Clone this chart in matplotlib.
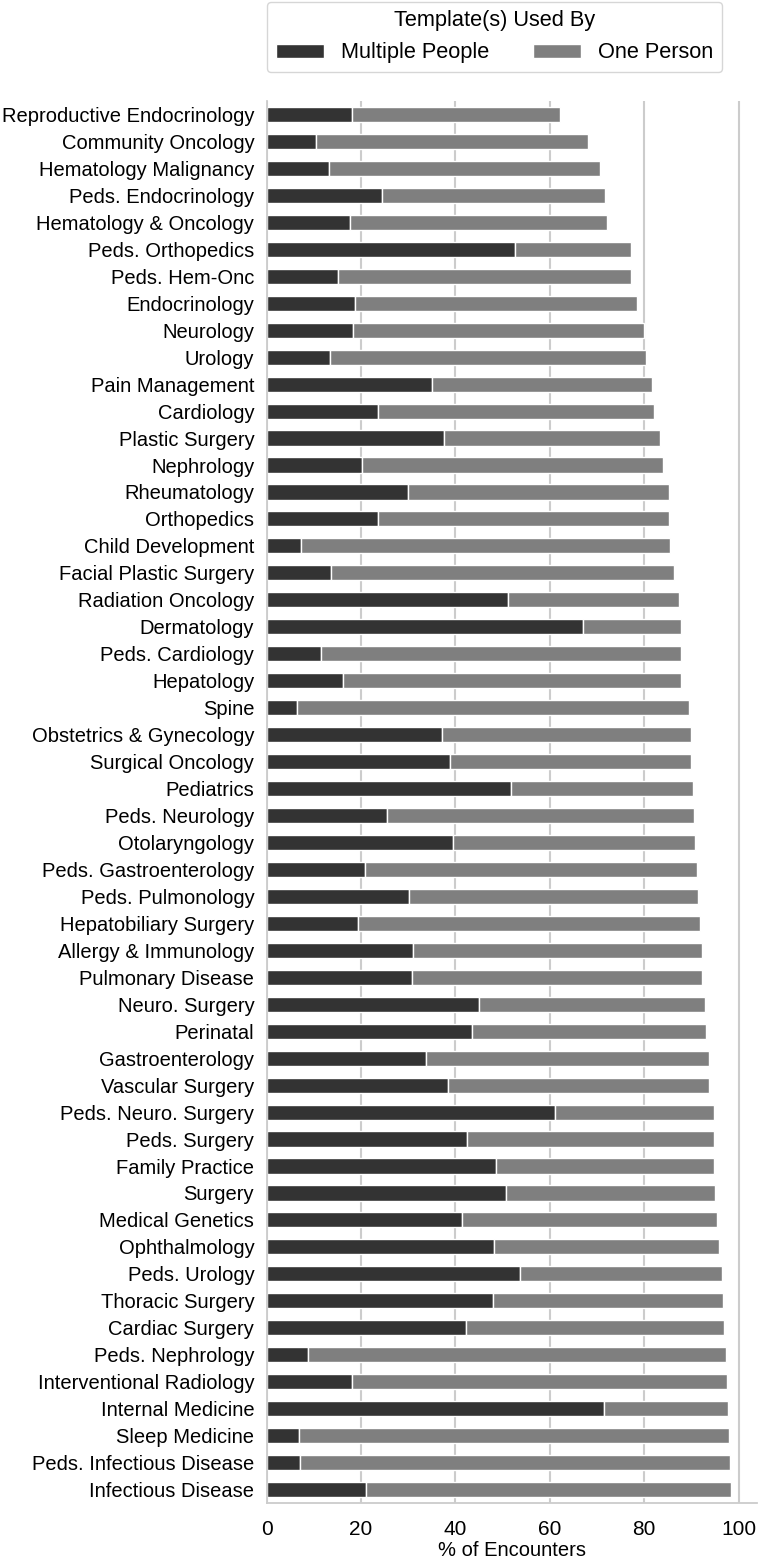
import matplotlib
matplotlib.use("Agg")
import matplotlib.pyplot as plt

# Specialties, top to bottom
specialties = [
    'Reproductive Endocrinology', 'Community Oncology', 'Hematology Malignancy',
    'Peds. Endocrinology', 'Hematology & Oncology', 'Peds. Orthopedics',
    'Peds. Hem-Onc', 'Endocrinology', 'Neurology', 'Urology', 'Pain Management',
    'Cardiology', 'Plastic Surgery', 'Nephrology', 'Rheumatology', 'Orthopedics',
    'Child Development', 'Facial Plastic Surgery', 'Radiation Oncology',
    'Dermatology', 'Peds. Cardiology', 'Hepatology', 'Spine',
    'Obstetrics & Gynecology', 'Surgical Oncology', 'Pediatrics',
    'Peds. Neurology', 'Otolaryngology', 'Peds. Gastroenterology',
    'Peds. Pulmonology', 'Hepatobiliary Surgery', 'Allergy & Immunology',
    'Pulmonary Disease', 'Neuro. Surgery', 'Perinatal', 'Gastroenterology',
    'Vascular Surgery', 'Peds. Neuro. Surgery', 'Peds. Surgery',
    'Family Practice', 'Surgery', 'Medical Genetics', 'Ophthalmology',
    'Peds. Urology', 'Thoracic Surgery', 'Cardiac Surgery', 'Peds. Nephrology',
    'Interventional Radiology', 'Internal Medicine', 'Sleep Medicine',
    'Peds. Infectious Disease', 'Infectious Disease',
]

# % of encounters, template used by multiple people
multiple_people = [
    18.0, 10.4, 13.2, 24.5, 17.7, 52.6, 15.0, 18.6, 18.2, 13.3, 35.1,
    23.6, 37.5, 20.2, 30.0, 23.6, 7.3, 13.6, 51.2, 67.1, 11.4, 16.2, 6.5,
    37.1, 38.8, 51.7, 25.4, 39.5, 20.9, 30.1, 19.4, 30.9, 30.7, 44.9, 43.5,
    33.7, 38.4, 61.1, 42.5, 48.5, 50.7, 41.3, 48.1, 53.7, 48.0, 42.3, 8.8,
    18.0, 71.5, 6.9, 7.1, 21.0,
]

# % of encounters, template used by one person
one_person = [
    44.1, 57.7, 57.5, 47.2, 54.4, 24.5, 62.1, 59.8, 61.7, 67.0, 46.5,
    58.4, 45.8, 63.7, 55.2, 61.6, 78.2, 72.7, 36.1, 20.7, 76.4, 71.6, 83.0,
    52.8, 51.2, 38.7, 65.2, 51.3, 70.3, 61.4, 72.5, 61.4, 61.6, 48.0, 49.7,
    60.1, 55.4, 33.7, 52.3, 46.4, 44.4, 54.2, 47.7, 42.7, 48.6, 54.7, 88.5,
    79.6, 26.3, 91.0, 91.1, 77.5,
]

plt.rcParams['font.family'] = ['Liberation Sans', 'DejaVu Sans']

fig = plt.figure(figsize=(7.6, 15.59), dpi=100)
ax = fig.add_axes([0.351, 0.0359, 0.645, 0.8993])

ypos = list(range(len(specialties)))
ax.barh(ypos, multiple_people, height=0.56, color='#333333',
        edgecolor='white', linewidth=1, label='Multiple People', zorder=2)
ax.barh(ypos, one_person, left=multiple_people, height=0.56, color='#7f7f7f',
        edgecolor='white', linewidth=1, label='One Person', zorder=2)

ax.set_yticks(ypos)
ax.set_yticklabels(specialties, fontsize=14.5)
ax.set_ylim(len(specialties) - 0.5, -0.5)
ax.set_xlim(0, 103.9)
ax.set_xticks([0, 20, 40, 60, 80, 100])
ax.tick_params(axis='x', labelsize=15, length=0, pad=12)
ax.tick_params(axis='y', length=0, pad=9)
ax.set_xlabel('% of Encounters', fontsize=14.5, labelpad=2)

ax.grid(axis='x', color='#cccccc', linewidth=1.5, zorder=0)
ax.set_axisbelow(True)
for side in ['top', 'right']:
    ax.spines[side].set_visible(False)
for side in ['left', 'bottom']:
    ax.spines[side].set_color('#cccccc')
    ax.spines[side].set_linewidth(1.3)

leg = ax.legend(title='Template(s) Used By', ncol=2, fontsize=15.7,
                title_fontsize=15.7, loc='lower left', mode='expand',
                bbox_to_anchor=(267 / 760, 1 - 72 / 1559, 455 / 760, 69 / 1559),
                bbox_transform=fig.transFigure, borderaxespad=0,
                handlelength=2.2, handleheight=0.6, frameon=True, fancybox=True)
leg.get_frame().set_edgecolor('#cccccc')

fig.savefig('out.png', dpi=100)
